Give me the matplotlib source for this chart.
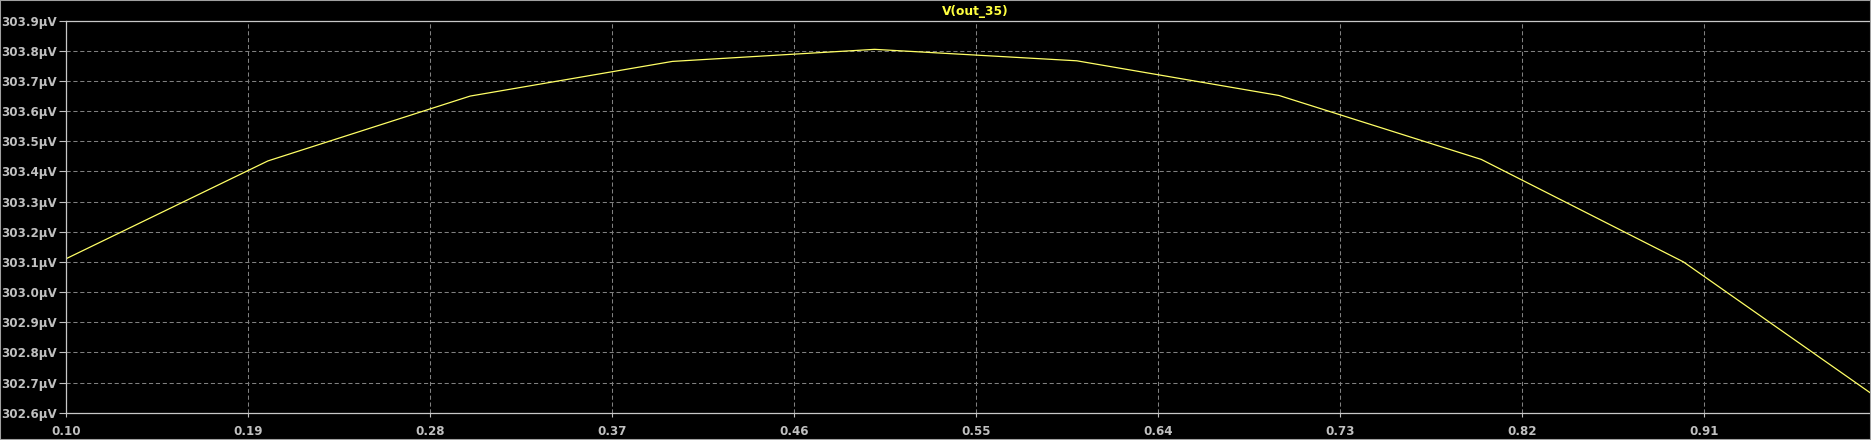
import numpy as np
import matplotlib
matplotlib.use("Agg")
import matplotlib.pyplot as plt
from matplotlib.patches import Rectangle

# Data (x sweep, V(out_35) in microvolts)
x_vals = [0.1, 0.2, 0.3, 0.4, 0.5, 0.6, 0.7, 0.8, 0.9, 1.0]
v_out = [303.110, 303.435, 303.650, 303.765, 303.805, 303.767, 303.652, 303.440, 303.100, 302.630]
x_ticks = [0.10, 0.19, 0.28, 0.37, 0.46, 0.55, 0.64, 0.73, 0.82, 0.91]
y_ticks = [302.6, 302.7, 302.8, 302.9, 303.0, 303.1, 303.2, 303.3, 303.4, 303.5, 303.6, 303.7, 303.8, 303.9]
title = "V(out_35)"

W, H = 1871, 440
fig = plt.figure(figsize=(W / 100, H / 100), dpi=100, facecolor="black")
left_px, right_px, top_px, bottom_px = 65.7, 1871, 20.7, 412.7
ax = fig.add_axes([left_px / W, 1 - bottom_px / H, (right_px - left_px) / W, (bottom_px - top_px) / H])
ax.set_facecolor("black")

ax.plot(x_vals, v_out, color="#ffff66", lw=0.9, clip_on=True)

px_per_unit = 182.0 / 0.09
ax.set_xlim(0.1, 0.1 + (right_px - left_px) / px_per_unit)
ax.set_ylim(302.6, 303.9)

ax.set_xticks(x_ticks)
ax.set_xticklabels([f"{t:.2f}" for t in x_ticks])
ax.set_yticks(y_ticks)
ax.set_yticklabels([f"{t:.1f}\u00b5V" for t in y_ticks])

gray = "#c0c0c0"
ax.tick_params(axis="y", colors=gray, length=5.4, width=0.8, pad=1, labelsize=8.6)
ax.tick_params(axis="x", colors=gray, length=2.9, width=0.8, pad=6, labelsize=8.6)
for lab in ax.get_xticklabels() + ax.get_yticklabels():
    lab.set_color(gray)
    lab.set_fontweight("bold")

ax.grid(True, color="#808080", linestyle=(0, (4, 2.6)), linewidth=0.75)
for s in ["left", "bottom", "top"]:
    ax.spines[s].set_color("#c8c8c8")
    ax.spines[s].set_linewidth(0.9)
ax.spines["right"].set_visible(False)

fig.text(975 / W, 1 - 11 / H, title, color="#ffff40", fontsize=8.8, fontweight="bold",
         ha="center", va="center")

# outer window border
fig.patches.append(Rectangle((0, 0), 1, 1, transform=fig.transFigure, fill=False,
                             edgecolor="#a0a0a0", linewidth=1.5, figure=fig))

fig.savefig("out.png", dpi=100, facecolor="black")
